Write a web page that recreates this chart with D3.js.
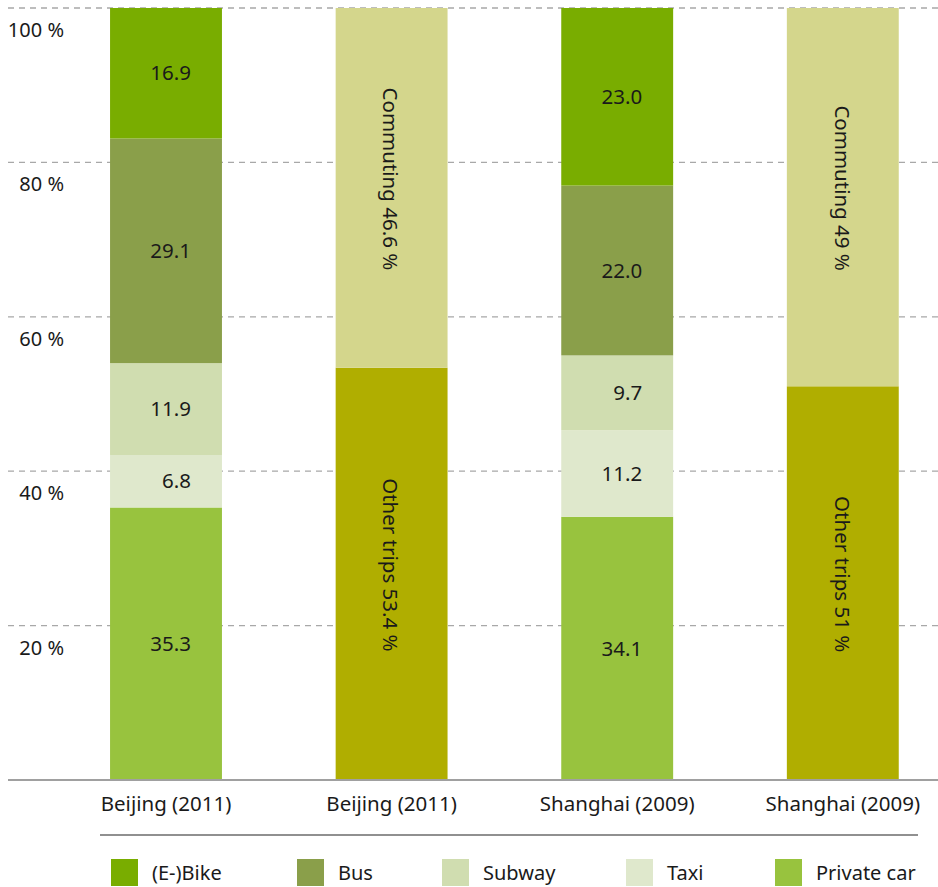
<!DOCTYPE html>
<html><head><meta charset="utf-8">
<script src="https://cdn.jsdelivr.net/npm/d3@7"></script>
<style>body{margin:0;background:#fff}svg{display:block}text{font-family:"Noto Sans",sans-serif;fill:#1a1a1a}</style>
</head><body><svg id="c" width="938" height="887"></svg>
<script>
const categories = ["Beijing (2011)", "Beijing (2011)", "Shanghai (2009)", "Shanghai (2009)"];
const seriesNames = ["Private car", "Taxi", "Subway", "Bus", "(E-)Bike", "Other trips", "Commuting"];
const privateCar = [35.3, 0, 34.1, 0];
const taxi = [6.8, 0, 11.2, 0];
const subway = [11.9, 0, 9.7, 0];
const bus = [29.1, 0, 22.0, 0];
const eBike = [16.9, 0, 23.0, 0];
const otherTrips = [0, 53.4, 0, 51];
const commuting = [0, 46.6, 0, 49];
const yTicks = [20, 40, 60, 80, 100];
const legendNames = ["(E-)Bike", "Bus", "Subway", "Taxi", "Private car"];

const colors = {"Private car":"#98c33e","Taxi":"#dfe8cc","Subway":"#d0ddb0","Bus":"#8a9f4a","(E-)Bike":"#79ad00","Other trips":"#b0ae00","Commuting":"#d4d68c"};
const seriesVals = [privateCar, taxi, subway, bus, eBike, otherTrips, commuting];
const table = categories.map((c,i)=>{const o={idx:i}; seriesNames.forEach((s,j)=>o[s]=seriesVals[j][i]); return o;});
const stack = d3.stack().keys(seriesNames)(table);

const svg = d3.select("#c");
const x = d3.scaleBand().domain(d3.range(categories.length)).range([53.2,955.6]).paddingInner(0.504).paddingOuter(0.252);
const y = d3.scaleLinear().domain([0,100]).range([780,8]);

// gridlines
svg.append("g").selectAll("line").data(yTicks).join("line")
  .attr("x1",8).attr("x2",938).attr("y1",d=>y(d)).attr("y2",d=>y(d))
  .attr("stroke","#a8a8a8").attr("stroke-width",1.3).attr("stroke-dasharray","6,5");

// bars
const g = svg.append("g");
stack.forEach(layer=>{
  g.append("g").selectAll("rect").data(layer.filter(d=>d[1]-d[0]>0)).join("rect")
    .attr("x",d=>x(d.data.idx)).attr("width",x.bandwidth())
    .attr("y",d=>y(d[1])).attr("height",d=>y(d[0])-y(d[1]))
    .attr("fill",colors[layer.key]);
});
// labels
stack.forEach(layer=>{
  const rot = layer.key==="Other trips"||layer.key==="Commuting";
  layer.filter(d=>d[1]-d[0]>0).forEach(d=>{
    const v = d[1]-d[0];
    const cx = x(d.data.idx)+x.bandwidth()/2;
    const cy = (y(d[0])+y(d[1]))/2;
    if(rot){
      const label = (layer.key==="Commuting"?"Commuting ":"Other trips ")+v+" %";
      g.append("text").attr("transform",`translate(${cx-1},${cy-9}) rotate(90)`)
        .attr("text-anchor","middle").attr("dy","0.35em").style("font-size","20.5px").text(label);
    } else {
      g.append("text").attr("x",cx+25).attr("y",cy).attr("dy","0.35em")
        .attr("text-anchor","end").style("font-size","20.5px").text(v.toFixed(1));
    }
  });
});

// y labels
svg.append("g").selectAll("text").data(yTicks).join("text")
  .attr("x",64).attr("y",d=>y(d)+29).attr("text-anchor","end")
  .style("font-size","20px").text(d=>d+" %");

// x axis baseline
svg.append("line").attr("x1",8).attr("x2",938).attr("y1",780).attr("y2",780)
  .attr("stroke","#a0a0a0").attr("stroke-width",2);
const xa = svg.append("g").attr("transform","translate(0,780)")
  .call(d3.axisBottom(x).tickSize(0).tickPadding(0).tickFormat(i=>categories[i]));
xa.select(".domain").remove();
xa.selectAll("text").attr("y",31).attr("dy",0).style("font-size","20.5px").style("font-family","'Noto Sans',sans-serif").attr("fill","#1a1a1a");

// separator
svg.append("line").attr("x1",100).attr("x2",918).attr("y1",835).attr("y2",835)
  .attr("stroke","#909090").attr("stroke-width",2);

// legend
const legX = [111, 297, 442, 626, 775];
const lg = svg.append("g");
legendNames.forEach((n,i)=>{
  lg.append("rect").attr("x",legX[i]).attr("y",859).attr("width",27).attr("height",27).attr("fill",colors[n]);
  lg.append("text").attr("x",legX[i]+41).attr("y",880).style("font-size","20px").text(n);
});
</script></body></html>
